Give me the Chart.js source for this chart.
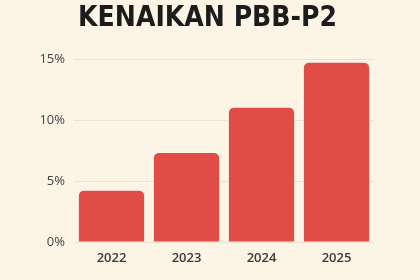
<!DOCTYPE html>
<html><head><meta charset="utf-8">
<script src="https://cdn.jsdelivr.net/npm/chart.js@4"></script>
<style>html,body{margin:0;padding:0;background:#fcf5e5;}#w{width:420px;height:280px;}</style>
</head><body><div id="w"><canvas id="c"></canvas></div>
<script>
const categories = ["2022", "2023", "2024", "2025"];
const values = [4.2, 7.3, 11.0, 14.7];
const yTicks = [0, 5, 10, 15];
const titleText = "KENAIKAN PBB-P2";

new Chart(document.getElementById('c'), {
  type: 'bar',
  data: {
    labels: categories,
    datasets: [{
      data: values,
      backgroundColor: '#e04d47',
      borderRadius: 5,
      borderSkipped: 'bottom',
      barPercentage: 0.87,
      categoryPercentage: 1.0
    }]
  },
  options: {
    responsive: true,
    maintainAspectRatio: false,
    animation: false,
    layout: { padding: { left: 41, right: 46, top: 0, bottom: 0 } },
    plugins: {
      legend: { display: false },
      tooltip: { enabled: false },
      title: {
        display: true,
        text: titleText,
        color: '#1c1c1c',
        font: { family: '"DejaVu Sans Condensed", "DejaVu Sans", sans-serif', size: 28, weight: 'bold' },
        padding: { top: 2, bottom: 23.5 }
      }
    },
    scales: {
      x: {
        grid: { display: false },
        border: { display: false },
        ticks: { color: '#3a3a3a', font: { family: 'Open Sans', size: 13, weight: '600' }, padding: 0 },
        afterFit: s => { s.height = 38; }
      },
      y: {
        min: 0, max: 15,
        afterBuildTicks: s => { s.ticks = yTicks.map(v => ({ value: v })); },
        grid: { color: '#ece4d2', lineWidth: 1, drawTicks: false },
        border: { display: false },
        ticks: { color: '#444', font: { family: 'Open Sans', size: 13 }, padding: 9, callback: v => v + '%' },
        afterFit: s => { s.width = 33; }
      }
    }
  }
});
</script></body></html>
